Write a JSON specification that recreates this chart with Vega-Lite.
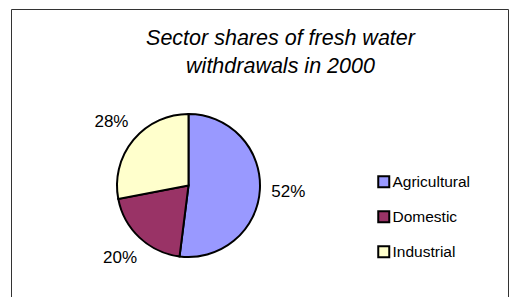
{
  "$schema": "https://vega.github.io/schema/vega-lite/v6.json",
  "width": 497,
  "height": 291,
  "autosize": {"type": "none"},
  "padding": {"left": 11, "top": 9, "right": 6, "bottom": -3},
  "background": "white",
  "view": {"stroke": "#333333", "strokeWidth": 1, "fill": "white"},
  "title": {
    "text": ["Sector shares of fresh water", "withdrawals in 2000"],
    "font": "Liberation Sans",
    "fontSize": 21.5,
    "fontStyle": "italic",
    "fontWeight": "normal",
    "color": "black",
    "anchor": "middle",
    "frame": "group",
    "offset": 0,
    "dx": 21,
    "dy": 68,
    "lineHeight": 28
  },
  "data": {
    "values": [
      {"sector": "Agricultural", "share": 0.52},
      {"sector": "Domestic", "share": 0.20},
      {"sector": "Industrial", "share": 0.28}
    ]
  },
  "encoding": {
    "theta": {"field": "share", "type": "quantitative", "stack": true},
    "order": {"field": "sector", "type": "nominal"}
  },
  "layer": [
    {
      "mark": {"type": "arc", "outerRadius": 71.5, "stroke": "black", "strokeWidth": 2, "x": 177.5, "y": 176.5},
      "encoding": {
        "color": {
          "field": "sector",
          "type": "nominal",
          "scale": {"domain": ["Agricultural", "Domestic", "Industrial"], "range": ["#9999FF", "#993366", "#FFFFCC"]},
          "legend": {
            "title": null,
            "orient": "none",
            "legendX": 365,
            "legendY": 165,
            "symbolType": "square",
            "symbolSize": 121,
            "symbolStrokeColor": "black",
            "symbolStrokeWidth": 2,
            "symbolOpacity": 1,
            "labelFont": "Liberation Sans",
            "labelFontSize": 15.5,
            "labelColor": "black",
            "labelOffset": 1,
            "rowPadding": 15,
            "padding": 0
          }
        }
      }
    },
    {
      "mark": {"type": "text", "radius": 100, "x": 177.5, "y": 176.5, "font": "Liberation Sans", "fontSize": 17, "color": "black", "align": "center", "baseline": "middle"},
      "encoding": {
        "text": {"field": "share", "type": "quantitative", "format": ".0%"}
      }
    }
  ],
  "config": {"view": {"stroke": "#333333", "strokeWidth": 1}, "style": {"cell": {"stroke": "#333333", "strokeWidth": 1}}}
}
